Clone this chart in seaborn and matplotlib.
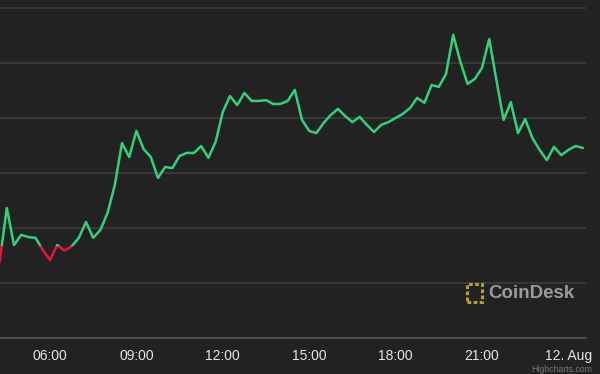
import numpy as np
import pandas as pd
import matplotlib
matplotlib.use("Agg")
import matplotlib.pyplot as plt
import matplotlib.dates as mdates
from matplotlib.patches import Rectangle
import seaborn as sns

# ---- data ----
start_time = "2021-08-11 04:15"
prices = [
    45276, 45473, 45338, 45375, 45367, 45364, 45320, 45284, 45338, 45318,
    45333, 45364, 45422, 45364, 45393, 45455, 45556, 45709, 45658, 45753,
    45687, 45658, 45582, 45622, 45618, 45662, 45673, 45673, 45698, 45655,
    45713, 45822, 45880, 45847, 45891, 45862, 45862, 45865, 45851, 45851,
    45862, 45902, 45793, 45753, 45745, 45782, 45811, 45833, 45807, 45785,
    45804, 45775, 45749, 45775, 45785, 45800, 45815, 45836, 45873, 45855,
    45920, 45913, 45960, 46102, 46004, 45924, 45942, 45982, 46087, 45938,
    45793, 45858, 45745, 45796, 45727, 45684, 45647, 45695, 45665, 45684,
    45698, 45691,
]
threshold = 45335
tick_times = ["2021-08-11 06:00", "2021-08-11 09:00", "2021-08-11 12:00",
              "2021-08-11 15:00", "2021-08-11 18:00", "2021-08-11 21:00",
              "2021-08-12 00:00"]
tick_labels = ["06:00", "09:00", "12:00", "15:00", "18:00", "21:00", "12. Aug"]
grid_values = [45000, 45200, 45400, 45600, 45800, 46000, 46200]

times = pd.date_range(start_time, periods=len(prices), freq="15min")
df = pd.DataFrame({"time": times, "price": prices})

# ---- style ----
BG = "#222222"
GREEN = "#33d17a"
RED = "#e8163c"

sns.set_theme(style="dark")
plt.rcParams["font.family"] = ["Liberation Sans", "DejaVu Sans"]

fig = plt.figure(figsize=(6.0, 3.74), dpi=100, facecolor=BG)
ax = fig.add_axes([0.0, 36 / 374, 586 / 600, 338 / 374])
ax.set_facecolor(BG)

sns.lineplot(data=df, x="time", y="price", ax=ax, color=GREEN, linewidth=1.8)
green_line = ax.lines[-1]
sns.lineplot(data=df, x="time", y="price", ax=ax, color=RED, linewidth=1.8)
red_line = ax.lines[-1]

xmin = pd.Timestamp("2021-08-11 04:15:50")
xmax = pd.Timestamp("2021-08-12 00:36:40")
ymin, ymax = 45000, 46229
ax.set_xlim(xmin, xmax)
ax.set_ylim(ymin, ymax)

# zone clipping: green above threshold, red below
x0 = mdates.date2num(xmin) - 1
x1 = mdates.date2num(xmax) + 1
clip_hi = Rectangle((x0, threshold), x1 - x0, 10000, transform=ax.transData)
clip_lo = Rectangle((x0, threshold - 10000), x1 - x0, 10000, transform=ax.transData)
green_line.set_clip_path(clip_hi)
red_line.set_clip_path(clip_lo)

# grid lines
ax.set_yticks(grid_values)
ax.yaxis.grid(True, color="#3c3c3c", linewidth=1.2)
ax.xaxis.grid(False)
ax.tick_params(axis="y", left=False, labelleft=False)

ax.set_xticks(pd.to_datetime(tick_times))
ax.set_xticklabels(tick_labels)
ax.tick_params(axis="x", length=0, pad=8, labelsize=10, labelcolor="#e6e6e6")
ax.set_xlabel("")
ax.set_ylabel("")

for s in ["top", "right", "left"]:
    ax.spines[s].set_visible(False)
ax.spines["bottom"].set_color("#555555")
ax.spines["bottom"].set_linewidth(1.2)

# CoinDesk watermark
fig.text(488 / 600, 1 - 293 / 374, "CoinDesk", color="#9a9a9a", fontsize=13.5,
         fontweight="bold", ha="left", va="center")
logo = Rectangle((467 / 600, 1 - 302 / 374), 15 / 600, 18 / 374,
                 transform=fig.transFigure, fill=False, edgecolor="#b8a030",
                 linewidth=2.2, linestyle=(0, (1.2, 0.8)))
fig.patches.append(logo)

fig.text(592 / 600, 1 - 369 / 374, "Highcharts.com", color="#7a7a7a",
         fontsize=6.3, ha="right", va="center")

fig.savefig("out.png", dpi=100, facecolor=BG)
